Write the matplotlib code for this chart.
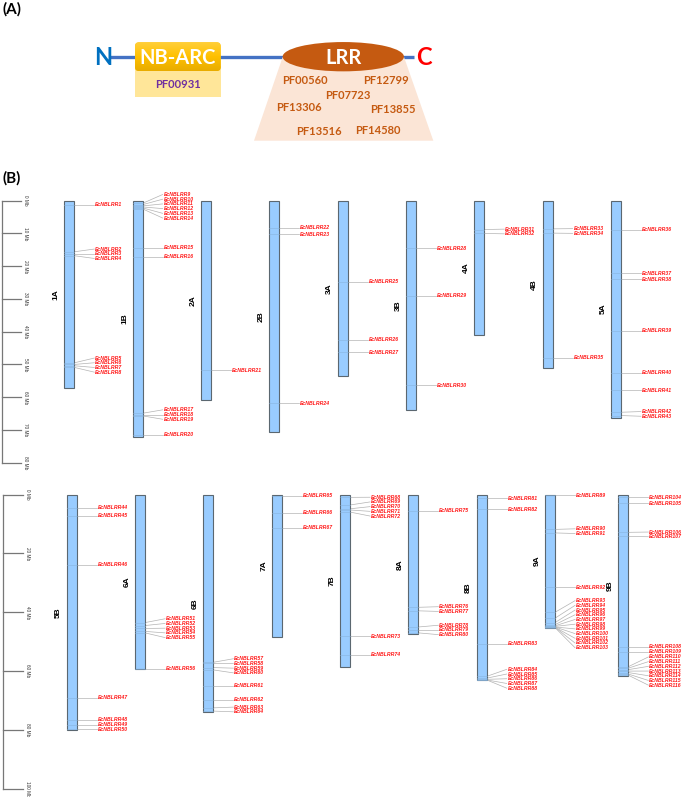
import numpy as np
import matplotlib
matplotlib.use('Agg')
import matplotlib.pyplot as plt
from matplotlib.patches import Rectangle, Ellipse, Polygon, FancyBboxPatch

# ---- panel A : domain structure ----
nb_pfam = 'PF00931'
lrr_pfams = ['PF00560', 'PF12799', 'PF07723', 'PF13306', 'PF13855', 'PF13516', 'PF14580']

# ---- panel B : chromosomes (Mb) ----
top_chroms = ['1A', '1B', '2A', '2B', '3A', '3B', '4A', '4B', '5A']
top_lengths = [57.2, 72.2, 60.8, 70.6, 53.5, 63.9, 41.0, 51.2, 66.2]
top_genes = [
    [1.3, 15.6, 16.2, 16.8, 49.5, 50.0, 50.4, 50.9],
    [0.8, 1.2, 1.6, 1.9, 2.2, 2.5, 14.3, 17.1, 64.9, 65.3, 65.7, 71.5],
    [51.7],
    [8.2, 10.3, 61.9],
    [24.8, 42.4, 46.3],
    [14.5, 29.0, 56.4],
    [8.8, 10.0],
    [8.6, 9.9, 48.0],
    [8.8, 22.1, 24.0, 39.7, 52.6, 57.9, 64.6, 65.6],
]
bottom_chroms = ['5B', '6A', '6B', '7A', '7B', '8A', '8B', '9A', '9B']
bottom_lengths = [80.0, 59.4, 74.0, 48.3, 58.7, 47.5, 63.0, 45.2, 61.7]
bottom_genes = [
    [4.5, 7.2, 23.8, 69.0, 76.5, 78.2, 79.8],
    [43.5, 44.5, 45.5, 46.5, 47.0, 59.2],
    [57.0, 57.4, 58.8, 59.6, 65.0, 69.8, 72.5, 73.6],
    [0.3, 6.2, 11.2],
    [0.9, 3.5, 4.8, 5.2, 5.9, 48.2, 54.4],
    [5.4, 38.3, 39.5, 45.0, 46.0, 47.0],
    [1.2, 5.0, 50.7, 61.8, 62.4, 62.8, 63.0, 63.0],
    [0.2, 11.8, 13.0, 31.4, 40.0, 42.0, 43.5, 44.2, 44.6, 44.8, 45.0, 45.0, 45.1, 45.1, 45.2],
    [0.9, 2.9, 12.8, 14.2, 51.7, 53.5, 58.5, 59.0, 59.5, 60.0, 60.5, 61.0, 61.4],
]

W, H = 685, 797
fig = plt.figure(figsize=(W / 100, H / 100), dpi=100)

# overlay axes in pixel units for panel A and the letters
ax0 = fig.add_axes([0, 0, 1, 1])
ax0.set_xlim(0, W)
ax0.set_ylim(H, 0)
ax0.axis('off')

afont = ['Lato', 'DejaVu Sans']
ax0.text(3, 9, '(A)', fontsize=11, fontweight='bold', family=afont, ha='left', va='center')
ax0.text(3, 178, '(B)', fontsize=11, fontweight='bold', family=afont, ha='left', va='center')

# backbone
ax0.plot([110, 414], [56.7, 56.7], color='#4472C4', lw=2.4, solid_capstyle='butt', zorder=1)
ax0.text(103, 57, 'N', color='#0070C0', fontsize=17, fontweight='bold', family=afont, ha='center', va='center')
ax0.text(424, 57, 'C', color='#FF0000', fontsize=17, fontweight='bold', family=afont, ha='center', va='center')

# NB-ARC box
ax0.add_patch(Rectangle((135, 66), 85.7, 30.7, facecolor='#FFE699', edgecolor='none', zorder=2))
box = FancyBboxPatch((135, 42.3), 85.7, 28.7, boxstyle='round,pad=0,rounding_size=4',
                     facecolor='#FFC000', edgecolor='none', zorder=3)
ax0.add_patch(box)
grad = np.linspace(0, 1, 64).reshape(-1, 1)
cm = matplotlib.colors.LinearSegmentedColormap.from_list('g', ['#FFCF3A', '#FFC000', '#E8AC00'])
im = ax0.imshow(grad, cmap=cm, extent=[135, 220.7, 71, 42.3], origin='upper', aspect='auto', zorder=3)
im.set_clip_path(box)
ax0.text(178, 57.5, 'NB-ARC', color='white', fontsize=14.5, fontweight='bold', family=afont,
         ha='center', va='center', zorder=4)
ax0.text(178, 84.5, nb_pfam, color='#7030A0', fontsize=8, fontweight='bold', family=afont,
         ha='center', va='center', zorder=4)

# LRR
ax0.add_patch(Polygon([(282.7, 57), (404, 57), (433.3, 140.7), (254, 140.7)],
                      closed=True, facecolor='#FBE5D6', edgecolor='none', zorder=2))
ax0.add_patch(Ellipse((343.3, 56.7), 121.3, 29.3, facecolor='#C55A11', edgecolor='none', zorder=3))
ax0.text(343.3, 57.5, 'LRR', color='white', fontsize=14.5, fontweight='bold', family=afont,
         ha='center', va='center', zorder=4)
pf_xy = [(305, 80.7), (386, 80), (348.3, 95.7), (299.3, 107.3), (392.7, 109.3), (319, 131.7), (378.3, 130)]
for name, (px, py) in zip(lrr_pfams, pf_xy):
    ax0.text(px, py, name, color='#C55A11', fontsize=8, fontweight='bold', family=afont,
             ha='center', va='center', zorder=4)


def spread(targets, gap):
    # least-squares label placement with a minimum gap (pool adjacent violators)
    vals = [t - i * gap for i, t in enumerate(targets)]
    blocks = []
    for v in vals:
        blocks.append([v, 1])
        while len(blocks) > 1 and blocks[-2][0] / blocks[-2][1] > blocks[-1][0] / blocks[-1][1]:
            s, c = blocks.pop()
            blocks[-1][0] += s
            blocks[-1][1] += c
    out = []
    for s, c in blocks:
        out += [s / c] * c
    return [u + i * gap for i, u in enumerate(out)]


def draw_row(ax, chroms, lengths, genes, first_id, x0, scale, ticks, bar_x, tick_end):
    gap = 4.7 / scale
    # scale bar
    ax.plot([bar_x, bar_x], [ticks[0], ticks[-1]], color='#777777', lw=0.9)
    for t in ticks:
        ax.plot([bar_x, tick_end], [t, t], color='#777777', lw=0.9)
        ax.text(tick_end + 2, t, '%d Mb' % t, rotation=-90, fontsize=3.4, color='#333333',
                ha='left', va='center', family='Liberation Sans')
    gid = first_id
    x = x0
    for name, length, pos in zip(chroms, lengths, genes):
        ax.add_patch(Rectangle((x, 0), 10, length, facecolor='#99CCFF', edgecolor='#5b6770',
                               lw=0.8, zorder=2))
        ax.text(x - 8, length / 2, name, rotation=90, fontsize=6, fontweight='bold',
                ha='center', va='center', family='Liberation Sans')
        labs = spread(pos, gap)
        for p, lp in zip(pos, labs):
            ax.plot([x, x + 10], [p, p], color='#88b4dd', lw=0.4, zorder=3)
            ax.plot([x + 10, x + 30], [p, lp], color='#b3b3b3', lw=0.5, zorder=1)
            ax.text(x + 31, lp, 'EcNBLRR%d' % gid, color='#FF1A1A', fontsize=3.7,
                    fontweight='bold', style='italic', ha='left', va='center',
                    family='Liberation Sans')
            gid += 1
        # wider column when the labels carry three digits
        x += 68.33 + (5 if gid > 100 else 0)
    return gid


# top row: 0 Mb at y=200.7 px, 3.275 px/Mb
s1 = 3.275
ax1 = fig.add_axes([0, 1 - (200.7 + 84 * s1) / H, 1, 87 * s1 / H])
ax1.set_xlim(0, W)
ax1.set_ylim(84, -3)
ax1.axis('off')
nxt = draw_row(ax1, top_chroms, top_lengths, top_genes, 1, 64.3, s1,
               list(range(0, 81, 10)), 2.3, 21)

# bottom row: 0 Mb at y=494.7 px, 2.94 px/Mb
s2 = 2.94
ax2 = fig.add_axes([0, 1 - (494.7 + 102 * s2) / H, 1, 105 * s2 / H])
ax2.set_xlim(0, W)
ax2.set_ylim(102, -3)
ax2.axis('off')
draw_row(ax2, bottom_chroms, bottom_lengths, bottom_genes, nxt, 66.7, s2,
         list(range(0, 101, 20)), 3.3, 23.3)

fig.savefig('out.png', dpi=100)
